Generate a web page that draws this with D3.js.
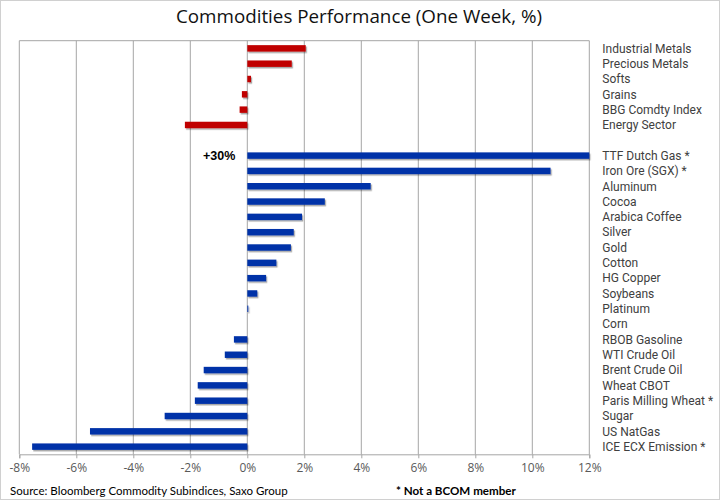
<!DOCTYPE html>
<html>
<head>
<meta charset="utf-8">
<script src="https://cdn.jsdelivr.net/npm/d3@7"></script>
<style>
  body { margin: 0; background: #fff; }
</style>
</head>
<body>
<div id="chart"></div>
<script>
// Categories top to bottom; '' is the empty gap between the two groups
const categories = [
  'Industrial Metals', 'Precious Metals', 'Softs', 'Grains', 'BBG Comdty Index', 'Energy Sector',
  '',
  'TTF Dutch Gas *', 'Iron Ore (SGX) *', 'Aluminum', 'Cocoa', 'Arabica Coffee', 'Silver', 'Gold',
  'Cotton', 'HG Copper', 'Soybeans', 'Platinum', 'Corn', 'RBOB Gasoline', 'WTI Crude Oil',
  'Brent Crude Oil', 'Wheat CBOT', 'Paris Milling Wheat *', 'Sugar', 'US NatGas', 'ICE ECX Emission *'
];

// One-week change, %
const sectorValues = [2.05, 1.56, 0.13, -0.19, -0.27, -2.19];
const commodityValues = [30, 10.64, 4.33, 2.72, 1.92, 1.63, 1.53, 1.02, 0.66, 0.35, 0.03, 0.0,
  -0.47, -0.79, -1.53, -1.74, -1.84, -2.9, -5.52, -7.55];

const xTicks = [-8, -6, -4, -2, 0, 2, 4, 6, 8, 10, 12];

const sectorColor = '#c00000';
const commodityColor = '#0432a8';

const data = [
  ...sectorValues.map((v, i) => ({ name: categories[i], value: v, color: sectorColor })),
  ...commodityValues.map((v, i) => ({ name: categories[i + 7], value: v, color: commodityColor }))
];

const W = 720, H = 500;
const margin = { top: 40.7, right: 130.7, bottom: 45.7, left: 19.3 };
const width = W - margin.left - margin.right;
const height = H - margin.top - margin.bottom;

const svg = d3.select('#chart')
  .append('svg')
  .attr('width', W)
  .attr('height', H);

// bar shadow
const defs = svg.append('defs');
defs.append('filter')
  .attr('id', 'shadow')
  .attr('x', '-5%').attr('y', '-50%')
  .attr('width', '110%').attr('height', '220%')
  .append('feDropShadow')
  .attr('dx', 1.2).attr('dy', 1.5)
  .attr('stdDeviation', 0.6)
  .attr('flood-color', '#000')
  .attr('flood-opacity', 0.35);

// outer frame
svg.append('rect')
  .attr('x', 0.5).attr('y', 0.5)
  .attr('width', W - 1).attr('height', H - 1)
  .attr('fill', '#fff')
  .attr('stroke', '#d0d0d0');

svg.append('text')
  .attr('x', 359)
  .attr('y', 23)
  .attr('text-anchor', 'middle')
  .style('font-family', '"Open Sans", sans-serif')
  .style('font-size', '18.8px')
  .attr('fill', '#111')
  .text('Commodities Performance (One Week, %)');

const g = svg.append('g')
  .attr('transform', `translate(${margin.left},${margin.top})`);

const x = d3.scaleLinear()
  .domain([-8, 12])
  .range([0, width])
  .clamp(true);

const y = d3.scaleBand()
  .domain(categories)
  .range([0, height])
  .paddingInner(0.58)
  .paddingOuter(0.29);

// gridlines
g.append('g')
  .selectAll('line')
  .data(xTicks)
  .enter()
  .append('line')
  .attr('x1', (d) => x(d))
  .attr('x2', (d) => x(d))
  .attr('y1', 0)
  .attr('y2', height)
  .attr('stroke', '#a6a6a6')
  .attr('stroke-width', 1);

// top border of plot
g.append('line')
  .attr('x1', 0).attr('x2', width)
  .attr('y1', 0).attr('y2', 0)
  .attr('stroke', '#a6a6a6');

// bars
g.append('g')
  .attr('filter', 'url(#shadow)')
  .selectAll('rect')
  .data(data.filter((d) => d.value !== 0))
  .enter()
  .append('rect')
  .attr('x', (d) => Math.min(x(0), x(d.value)))
  .attr('y', (d) => y(d.name))
  .attr('width', (d) => Math.max(1, Math.abs(x(d.value) - x(0))))
  .attr('height', y.bandwidth())
  .attr('fill', (d) => d.color);

// label for the clipped bar
const clipped = data.filter((d) => d.value > 12);
g.selectAll('.clip-label')
  .data(clipped)
  .enter()
  .append('text')
  .attr('class', 'clip-label')
  .attr('x', x(0) - 12)
  .attr('y', (d) => y(d.name) + y.bandwidth() / 2 + 4)
  .attr('text-anchor', 'end')
  .style('font-family', '"Liberation Sans", Arial, sans-serif')
  .style('font-size', '12.5px')
  .style('font-weight', 'bold')
  .attr('fill', '#000')
  .text((d) => `+${d.value}%`);

// x axis
const xAxis = g.append('g')
  .attr('transform', `translate(0,${height})`)
  .call(d3.axisBottom(x).tickValues(xTicks).tickSize(4).tickPadding(5).tickFormat((d) => d + '%'));
xAxis.select('.domain').attr('stroke', '#a6a6a6');
xAxis.selectAll('.tick line').attr('stroke', '#a6a6a6');
xAxis.selectAll('.tick text')
  .attr('fill', '#595959')
  .style('font-family', '"Open Sans", sans-serif')
  .style('font-size', '12px');

// category labels on the right
g.append('g')
  .selectAll('text')
  .data(categories.filter((c) => c !== ''))
  .enter()
  .append('text')
  .attr('x', width + 13)
  .attr('y', (d) => y(d) + y.bandwidth() / 2 + 4.3)
  .style('font-family', 'Roboto, sans-serif')
  .style('font-size', '12px')
  .attr('fill', '#404040')
  .text((d) => d);

// footer
svg.append('text')
  .attr('x', 10)
  .attr('y', 495)
  .style('font-family', 'Lato, sans-serif')
  .style('font-size', '11.5px')
  .attr('fill', '#000')
  .text('Source: Bloomberg Commodity Subindices, Saxo Group');

svg.append('text')
  .attr('x', 396)
  .attr('y', 495)
  .style('font-family', 'Lato, sans-serif')
  .style('font-size', '11.6px')
  .style('font-weight', 'bold')
  .attr('fill', '#000')
  .text('* Not a BCOM member');
</script>
</body>
</html>
